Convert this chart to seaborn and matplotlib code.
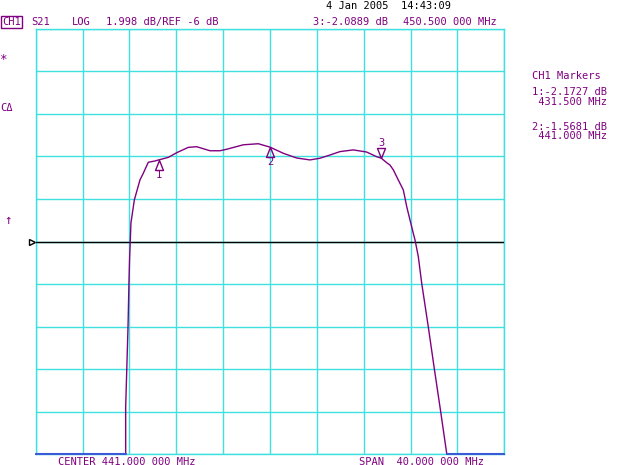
import numpy as np
import matplotlib
matplotlib.use("Agg")
import matplotlib.pyplot as plt
import seaborn as sns

# S21 trace (MHz, dB); the -15.99 points sit on the bottom graticule line
freq_mhz = [421.0, 428.68, 428.68, 428.88, 428.96, 429.02, 429.07, 429.13, 429.42, 429.90,
            430.18, 430.61, 431.18, 431.50, 432.32, 433.04, 434.03, 434.74, 435.88, 436.73,
            437.30, 438.72, 440.00, 441.00, 442.14, 443.28, 444.41, 445.27, 446.12, 446.97,
            448.11, 449.25, 450.11, 450.50, 450.96, 451.24, 451.53, 451.95, 452.38, 452.67,
            452.95, 453.23, 453.38, 453.66, 453.95, 454.51, 455.02, 455.57, 456.08, 456.12,
            461.0]
s21_db = [-15.99, -15.99, -13.77, -10.01, -7.95, -6.73, -6.02, -5.13, -4.05, -3.11,
          -2.80, -2.28, -2.22, -2.17, -2.05, -1.83, -1.58, -1.55, -1.74, -1.74,
          -1.67, -1.46, -1.41, -1.57, -1.86, -2.08, -2.17, -2.09, -1.94, -1.78,
          -1.70, -1.80, -2.02, -2.09, -2.30, -2.41, -2.64, -3.11, -3.58, -4.36,
          -4.99, -5.61, -5.93, -6.71, -7.96, -10.00, -11.95, -13.99, -15.94, -15.99,
          -15.99]

marker_ids = ["1", "2", "3"]
marker_freq = [431.5, 441.0, 450.5]
marker_db = [-2.1727, -1.5681, -2.0889]

center_mhz = 441.0
span_mhz = 40.0
ref_db = -6.0
scale_db = 1.998

PURPLE = "#800080"
CYAN = "#3fe0e0"
BLUE = "#3a5ad8"

sns.set_style("white")
plt.rcParams["font.family"] = ["DejaVu Sans Mono", "DejaVu Sans"]

fig = plt.figure(figsize=(6.4, 4.65), dpi=100)
ax = fig.add_axes([35.7 / 640, 1 - 454.3 / 465, 468.6 / 640, 425.6 / 465])

f_lo, f_hi = center_mhz - span_mhz / 2, center_mhz + span_mhz / 2
y_lo, y_hi = ref_db - 5 * scale_db, ref_db + 5 * scale_db
ax.set_xlim(f_lo, f_hi)
ax.set_ylim(y_lo, y_hi)
ax.set_xticks(np.linspace(f_lo, f_hi, 11))
ax.set_yticks(np.linspace(y_lo, y_hi, 11))
ax.grid(True, color=CYAN, lw=1)
ax.tick_params(length=0, labelbottom=False, labelleft=False)
for s in ax.spines.values():
    s.set_color(CYAN)
    s.set_linewidth(1)
ax.set_xlabel("")
ax.set_ylabel("")

# reference line
ax.axhline(ref_db, color="black", lw=1, zorder=3)
ax.plot([f_lo - 0.35], [ref_db], marker=">", ms=4, mfc="none", mec="black", mew=1,
        clip_on=False)

sns.lineplot(x=freq_mhz, y=s21_db, sort=False, estimator=None, color=PURPLE, lw=1,
             ax=ax, zorder=4)
ax.lines[-1].set_clip_on(False)

# where the trace lies on the bottom line it shows up blue
f = np.array(freq_mhz)
d = np.array(s21_db)
low = d <= y_lo + 0.01
ax.plot(f, np.where(low, y_lo, np.nan), color=BLUE, lw=1.5, zorder=5, clip_on=False)

# markers
up = [(0, 0), (-0.4, -1), (0.4, -1), (0, 0)]
down = [(0, 0), (-0.4, 1), (0.4, 1), (0, 0)]
for mid, mf, md in zip(marker_ids, marker_freq, marker_db):
    shape = down if mid == "3" else up
    ax.plot([mf], [md], marker=shape, ms=14.4, mfc="none", mec=PURPLE, mew=1, zorder=6)
    dy = 11 if mid == "3" else -11
    ax.annotate(mid, (mf, md), xytext=(0, dy), textcoords="offset points",
                ha="center", va="center", color=PURPLE, fontsize=7.5)


def px_text(x, y, s, color=PURPLE, size=7.5, **kw):
    return fig.text(x / 640, 1 - y / 465, s, color=color, va="center", ha="left",
                    fontsize=size, **kw)


px_text(326, 6, "4 Jan 2005  14:43:09", color="black")
px_text(2, 21.7, "CH1", bbox=dict(boxstyle="square,pad=0.1", fc="white", ec=PURPLE, lw=1))
px_text(31.5, 21.7, "S21")
px_text(71.5, 21.7, "LOG")
px_text(106.5, 21.7, "1.998 dB/REF -6 dB")
px_text(313, 22, "3:-2.0889 dB")
px_text(403, 22, "450.500 000 MHz")

px_text(531.5, 75.7, "CH1 Markers")
px_text(531.5, 92.3, "1:-2.1727 dB")
px_text(531.5, 102.3, " 431.500 MHz")
px_text(531.5, 126.7, "2:-1.5681 dB")
px_text(531.5, 135.7, " 441.000 MHz")

px_text(-0.5, 59, "*", size=9)
px_text(0, 108, "C\u0394")
px_text(4, 220, "\u2191", size=9)

px_text(57.5, 461.5, "CENTER 441.000 000 MHz")
px_text(359, 461.5, "SPAN  40.000 000 MHz")

fig.savefig("out.png", dpi=100)
